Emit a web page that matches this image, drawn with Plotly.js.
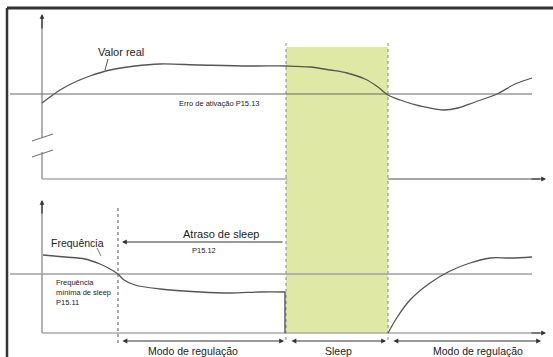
<!DOCTYPE html>
<html>
<head>
<meta charset="utf-8">
<script src="https://cdn.plot.ly/plotly-3.0.1.min.js"></script>
<style>
  html, body { margin: 0; padding: 0; background: #fff; }
  #chart { width: 553px; height: 357px; }
</style>
</head>
<body>
<div id="chart"></div>
<script>
// diagram is laid out on a pixel-like grid (x right, y down)
// curve points
var valorRealX = [42, 50, 60, 75, 90, 110, 135, 160, 200, 250, 287, 310, 330, 347, 365, 378, 388, 400, 420, 443, 458, 475, 497, 515, 532];
var valorRealY = [103, 97, 90, 82, 76, 70, 66, 64, 65, 66, 66, 67, 70, 73, 79, 87, 95, 100, 106, 110, 108, 102, 94, 84, 78];

var freqX = [43, 65, 85, 100, 110, 118, 124, 135, 160, 200, 230, 260, 285];
var freqY = [255, 257, 259, 264, 269, 274, 280, 285, 289, 292, 293, 292, 292];

var dropX = [285, 285];
var dropY = [292, 333];

var recoverX = [388, 398, 410, 430, 450, 470, 490, 510, 532];
var recoverY = [333, 316, 300, 283, 271, 263, 258, 258, 257];

// threshold levels
var erroAtivacaoY = 94;
var freqMinY = 274;

// time marks
var tAtraso = 118;
var tSleepStart = 286;
var tSleepEnd = 388;

var traces = [];
function addLine(x, y, color, width, shape, dash) {
    traces.push({
        x: x, y: y,
        type: 'scatter',
        mode: 'lines',
        line: { color: color, width: width, shape: shape || 'linear', dash: dash || 'solid' },
        hoverinfo: 'skip',
        showlegend: false
    });
}

// sleep band
traces.push({
    x: [tSleepStart, tSleepEnd, tSleepEnd, tSleepStart, tSleepStart],
    y: [47, 47, 333, 333, 47],
    type: 'scatter', mode: 'lines', fill: 'toself',
    fillcolor: '#e0e8a6', line: { width: 0 },
    hoverinfo: 'skip', showlegend: false
});

// dotted time marks
addLine([tSleepStart, tSleepStart], [43, 342], '#8a8a8a', 1, 'linear', 'dot');
addLine([tSleepEnd, tSleepEnd], [43, 342], '#8a8a8a', 1, 'linear', 'dot');
addLine([tAtraso, tAtraso], [208, 345], '#555', 1, 'linear', 'dot');

// top panel axes
addLine([42, 42], [18, 137], '#888', 1.3);
addLine([42, 42], [152, 179], '#888', 1.3);
addLine([32, 53], [141, 134], '#777', 1.2);
addLine([32, 53], [157, 150], '#777', 1.2);
addLine([42, 287], [179, 179], '#aaa', 1.5);
addLine([388, 540], [179, 179], '#888', 1.5);

// bottom panel axes
addLine([42, 42], [203, 333], '#888', 1.3);
addLine([42, 540], [333, 333], '#aaa', 1.5);

// thresholds
addLine([10, 532], [erroAtivacaoY, erroAtivacaoY], '#666', 1);
addLine([10, 532], [freqMinY, freqMinY], '#a0a0a0', 1.5);

// curves
addLine(valorRealX, valorRealY, '#555', 1.3, 'spline');
addLine(freqX, freqY, '#555', 1.3, 'spline');
addLine(dropX, dropY, '#444', 1.3);
addLine(recoverX, recoverY, '#555', 1.3, 'spline');

// leaders
addLine([108, 105], [59, 70], '#555', 1);
addLine([97, 101], [248, 256], '#777', 1);

function arrow(x0, y0, x1, y1, both) {
    return {
        x: x1, y: y1, ax: x0, ay: y0,
        xref: 'x', yref: 'y', axref: 'x', ayref: 'y',
        text: '', showarrow: true,
        arrowhead: 2, arrowsize: 0.8, arrowwidth: 1.2,
        arrowcolor: '#333',
        arrowside: both ? 'end+start' : 'end'
    };
}
function label(x, y, text, size, anchor) {
    return {
        x: x, y: y, xref: 'x', yref: 'y',
        text: text, showarrow: false,
        xanchor: anchor || 'center', yanchor: 'middle', align: 'left',
        font: { family: 'Liberation Sans, Arial, sans-serif', size: size, color: '#222' }
    };
}

var annotations = [
    arrow(42, 30, 42, 14),
    arrow(530, 179, 546, 179),
    arrow(42, 215, 42, 200),
    arrow(530, 333, 546, 333),
    arrow(284, 242, 122, 242),
    arrow(121, 341, 284, 341, true),
    arrow(290, 341, 386, 341, true),
    arrow(392, 341, 541, 341, true),
    label(121, 52, 'Valor real', 11),
    label(219, 103, 'Erro de ativação P15.13', 7.5),
    label(221, 234, 'Atraso de sleep', 11),
    label(204, 250, 'P15.12', 7.5),
    label(77, 243, 'Frequência', 10.5),
    label(54, 292, 'Frequência<br>mínima de sleep<br>P15.11', 7.5, 'left'),
    label(193, 351, 'Modo de regulação', 10.5),
    label(338, 351, 'Sleep', 10.5),
    label(478, 351, 'Modo de regulação', 10.5)
];

var layout = {
    width: 553, height: 357,
    margin: { l: 0, r: 0, t: 0, b: 0 },
    paper_bgcolor: '#fff', plot_bgcolor: '#fff',
    xaxis: { range: [0, 553], visible: false, fixedrange: true },
    yaxis: { range: [357, 0], visible: false, fixedrange: true },
    shapes: [
        // outer frame
        { type: 'line', xref: 'x', yref: 'y', x0: 7, y0: 8, x1: 553, y1: 8, line: { color: '#333', width: 3 } },
        { type: 'line', xref: 'x', yref: 'y', x0: 7, y0: 8, x1: 7, y1: 357, line: { color: '#333', width: 2.5 } }
    ],
    annotations: annotations,
    showlegend: false
};

Plotly.newPlot('chart', traces, layout, { displayModeBar: false, staticPlot: true });
</script>
</body>
</html>
